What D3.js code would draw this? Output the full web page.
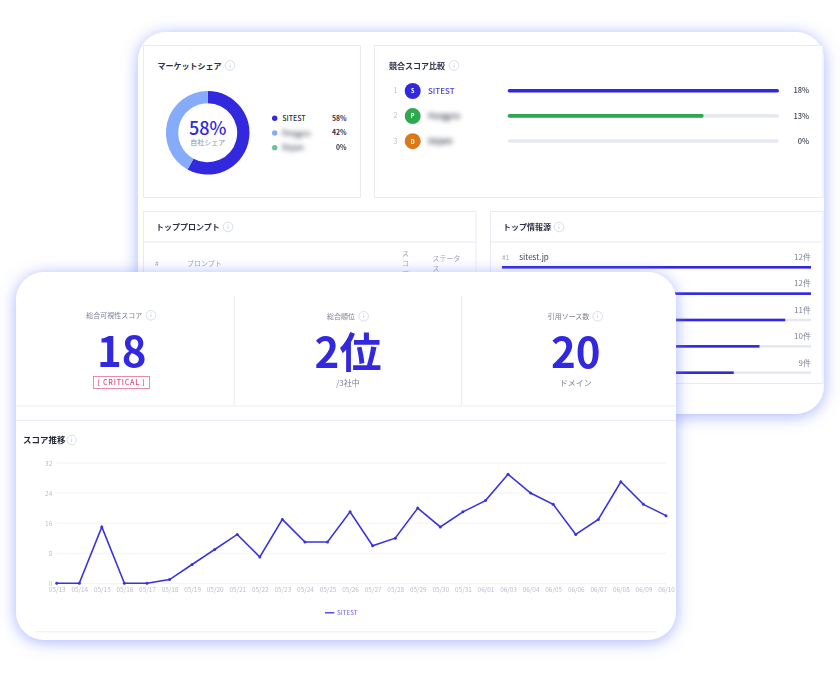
<!DOCTYPE html>
<html lang="ja">
<head>
<meta charset="utf-8">
<script src="https://cdn.jsdelivr.net/npm/d3@7"></script>
<style>
  html, body { margin: 0; background: #fff; }
  svg { display: block; filter: blur(0.3px); }
  text { font-family: "Noto Sans CJK JP", "Noto Sans", sans-serif; }
  .blur { filter: blur(2.6px); }
</style>
</head>
<body>
<div id="chart"></div>
<script>
const dates = ['05/13', '05/14', '05/15', '05/16', '05/17', '05/18', '05/19', '05/20', '05/21', '05/22',
  '05/23', '05/24', '05/25', '05/26', '05/27', '05/28', '05/29', '05/30', '05/31', '06/01',
  '06/03', '06/04', '06/05', '06/06', '06/07', '06/08', '06/09', '06/10'];
const scores = [0, 0, 15, 0, 0, 1, 5, 9, 13, 7, 17, 11, 11, 19, 10, 12, 20, 15, 19, 22, 29, 24, 21, 13, 17, 27, 21, 18];
const scoreTicks = [0, 8, 16, 24, 32];

const shareNames = ['SITEST', 'Pengpro', 'Dejam'];
const shareValues = [58, 42, 0];
const shareColors = ['#3228dd', '#86abfb', '#6fc2a0'];

const compareNames = ['SITEST', 'Pengpro', 'Dejam'];
const compareValues = [18, 13, 0];
const compareInitials = ['S', 'P', 'D'];
const compareColors = ['#3228dd', '#2ea84f', '#d9791a'];

const sourceCounts = [12, 12, 11, 10, 9];

const kpiLabels = ['総合可視性スコア', '総合順位', '引用ソース数'];
const kpiValues = ['18', '2位', '20'];
const kpiNotes = ['', '/3社中', 'ドメイン'];

const blue = '#3228dd';
const ink = '#2b2f45';
const muted = '#8a8fa3';
const panelLine = '#e8ebf6';

const svg = d3.select('#chart').append('svg')
  .attr('width', 840)
  .attr('height', 680);

const defs = svg.append('defs');
const glow = defs.append('filter')
  .attr('id', 'glow')
  .attr('x', '-15%').attr('y', '-15%')
  .attr('width', '130%').attr('height', '130%');
glow.append('feDropShadow')
  .attr('dx', 0).attr('dy', 2)
  .attr('stdDeviation', 8)
  .attr('flood-color', '#6f84ff')
  .attr('flood-opacity', 0.62);

function label(g, x, y, str, size, fill, opts = {}) {
  return g.append('text')
    .attr('x', x)
    .attr('y', y)
    .attr('font-size', size)
    .attr('fill', fill)
    .attr('font-weight', opts.weight || 400)
    .attr('text-anchor', opts.anchor || 'start')
    .attr('class', opts.blur ? 'blur' : null)
    .text(str);
}

function infoIcon(g, cx, cy) {
  g.append('circle')
    .attr('cx', cx).attr('cy', cy).attr('r', 4.8)
    .attr('fill', 'none')
    .attr('stroke', '#cdd6ec')
    .attr('stroke-width', 0.8);
  label(g, cx, cy + 2, 'i', 5.5, '#aeb9d6', { anchor: 'middle' });
}

function panel(g, x0, y0, x1, y1) {
  g.append('rect')
    .attr('x', x0).attr('y', y0)
    .attr('width', x1 - x0).attr('height', y1 - y0)
    .attr('fill', '#fff')
    .attr('stroke', panelLine)
    .attr('stroke-width', 1);
}

function hline(g, x0, x1, y, color, w = 1) {
  g.append('line')
    .attr('x1', x0).attr('x2', x1)
    .attr('y1', y).attr('y2', y)
    .attr('stroke', color)
    .attr('stroke-width', w);
}

// back card
const back = svg.append('g');

back.append('rect')
  .attr('x', 138).attr('y', 32)
  .attr('width', 686).attr('height', 382)
  .attr('rx', 28)
  .attr('fill', '#fff')
  .attr('filter', 'url(#glow)');

// market share
panel(back, 143.5, 45.5, 360.5, 197.5);
label(back, 157.5, 68.5, 'マーケットシェア', 8, ink, { weight: 700 });
infoIcon(back, 230, 65.5);

const pie = d3.pie().sort(null).value(d => d.value);
const arc = d3.arc().innerRadius(29.5).outerRadius(41.8);
const shareData = shareNames.map((name, i) => ({ name, value: shareValues[i], color: shareColors[i] }));

const donut = back.append('g')
  .attr('transform', 'translate(207.7,132.8)');

donut.selectAll('path')
  .data(pie(shareData))
  .join('path')
  .attr('d', arc)
  .attr('fill', d => d.data.color);

label(donut, 0, 2.2, shareValues[0] + '%', 18, blue, { anchor: 'middle', weight: 500 });
label(donut, 0, 12.5, '自社シェア', 7, muted, { anchor: 'middle' });

const shareY = d3.scalePoint().domain(shareNames.map((d, i) => i)).range([118.3, 147.8]);

shareData.forEach((d, i) => {
  back.append('circle')
    .attr('cx', 274.7).attr('cy', shareY(i)).attr('r', 2.7)
    .attr('fill', d.color);
  label(back, 282.3, shareY(i) + 2.6, d.name, 7, ink, { weight: 500, blur: i > 0 });
  label(back, 346.5, shareY(i) + 2.4, d.value + '%', 6.8, ink, { weight: 700, anchor: 'end' });
});

// competitor scores
panel(back, 374.5, 45.5, 823, 197.5);
label(back, 389, 68.5, '競合スコア比較', 8, ink, { weight: 700 });
infoIcon(back, 454, 65.5);

const compareY = d3.scalePoint().domain(compareNames.map((d, i) => i)).range([90.8, 141]);
const compareX = d3.scaleLinear().domain([0, d3.max(compareValues)]).range([507.7, 779]);

compareNames.forEach((name, i) => {
  const y = compareY(i);
  label(back, 395.5, y + 2.5, i + 1, 7, '#b7bccb', { anchor: 'middle' });
  back.append('circle')
    .attr('cx', 412.7).attr('cy', y + 0.2).attr('r', 8)
    .attr('fill', compareColors[i]);
  label(back, 412.7, y + 2.5, compareInitials[i], 5.5, '#fff', { anchor: 'middle', weight: 700 });
  label(back, 428, y + 3, name, 8, i === 0 ? '#4a42e6' : ink, { weight: 500, blur: i > 0 });
  back.append('rect')
    .attr('x', compareX(0)).attr('y', y - 1.8)
    .attr('width', compareX.range()[1] - compareX(0)).attr('height', 3.6)
    .attr('rx', 1.8)
    .attr('fill', '#e6e9f2');
  back.append('rect')
    .attr('x', compareX(0)).attr('y', y - 1.8)
    .attr('width', compareX(compareValues[i]) - compareX(0)).attr('height', 3.6)
    .attr('rx', 1.8)
    .attr('fill', compareColors[i]);
  label(back, 809, y + 2.6, compareValues[i] + '%', 7.5, '#41465c', { anchor: 'end', weight: 500 });
});

// top prompts
panel(back, 143.5, 211.5, 476, 383.5);
hline(back, 143.5, 476, 242, panelLine);
label(back, 156, 230, 'トッププロンプト', 8, ink, { weight: 700 });
infoIcon(back, 228, 227);
label(back, 155, 266, '#', 6.5, '#a3a8ba');
label(back, 187, 266, 'プロンプト', 7, '#a3a8ba');
label(back, 405.5, 256, 'ス', 7, '#a3a8ba', { anchor: 'middle' });
label(back, 405.5, 266, 'コ', 7, '#a3a8ba', { anchor: 'middle' });
label(back, 405.5, 276, 'ア', 7, '#a3a8ba', { anchor: 'middle' });
label(back, 432.5, 261, 'ステータ', 7, '#a3a8ba');
label(back, 432.5, 271, 'ス', 7, '#a3a8ba');

// top sources
panel(back, 490.5, 211.5, 823, 383.5);
hline(back, 490.5, 823, 242, panelLine);
label(back, 503, 230, 'トップ情報源', 8, ink, { weight: 700 });
infoIcon(back, 559, 227);

const sourceY = d3.scalePoint().domain(sourceCounts.map((d, i) => i)).range([267.3, 372.7]);
const sourceX = d3.scaleLinear().domain([0, d3.max(sourceCounts)]).range([502, 811]);

label(back, 502, 260, '#1', 6.5, '#a3a8ba');
label(back, 519.3, 260.3, 'sitest.jp', 8, '#41465c');

sourceCounts.forEach((count, i) => {
  const y = sourceY(i);
  back.append('rect')
    .attr('x', sourceX(0)).attr('y', y - 1.3)
    .attr('width', sourceX.range()[1] - sourceX(0)).attr('height', 2.6)
    .attr('fill', '#e6e9f2');
  back.append('rect')
    .attr('x', sourceX(0)).attr('y', y - 1.3)
    .attr('width', sourceX(count) - sourceX(0)).attr('height', 2.6)
    .attr('fill', blue);
  label(back, 811, y - 7.2, count + '件', 8, '#7c8196', { anchor: 'end' });
});

// front card
const front = svg.append('g');

front.append('rect')
  .attr('x', 16).attr('y', 272)
  .attr('width', 660).attr('height', 368)
  .attr('rx', 28)
  .attr('fill', '#fff')
  .attr('filter', 'url(#glow)');

const kpiX = [121.7, 348, 575.7];
const kpiIcon = [151, 363.7, 597.7];
const kpiLabelX = [114.3, 341, 568.5];

kpiLabels.forEach((name, i) => {
  const dy = i === 0 ? 0 : 1;
  label(front, kpiX[i], 366.8 + dy, kpiValues[i], 42, blue, { anchor: 'middle', weight: 700 });
  label(front, kpiLabelX[i], 317.8 + dy, name, 7, '#7c8196', { anchor: 'middle' });
  infoIcon(front, kpiIcon[i], 315.3 + dy);
  if (kpiNotes[i]) label(front, kpiX[i], 386, kpiNotes[i], 8, '#7c8196', { anchor: 'middle' });
});

front.append('rect')
  .attr('x', 93.5).attr('y', 376.5)
  .attr('width', 56).attr('height', 12)
  .attr('fill', '#fff')
  .attr('stroke', '#e87f9f')
  .attr('stroke-width', 0.9);
label(front, 121.5, 385.2, '[ CRITICAL ]', 7, '#e0457b', { anchor: 'middle', weight: 500 })
  .attr('letter-spacing', 0.8);

[234.3, 461.7].forEach(x => {
  front.append('line')
    .attr('x1', x).attr('x2', x)
    .attr('y1', 296).attr('y2', 406)
    .attr('stroke', '#e8ebf6');
});
hline(front, 16, 676, 406, '#f2f3f8', 1.5);
hline(front, 16, 676, 420.5, '#e8ebf6');
hline(front, 35, 657, 631.7, '#f2f3f8', 1.5);

// score chart
label(front, 23, 443.3, 'スコア推移', 8.5, '#1f2235', { weight: 700 });
infoIcon(front, 71.7, 440);

const x = d3.scalePoint().domain(dates).range([56.7, 666]);
const y = d3.scaleLinear().domain([0, 32]).range([583.3, 463]);

const xAxis = d3.axisBottom(x).tickSize(0).tickPadding(4.5);
const yAxis = d3.axisLeft(y).tickValues(scoreTicks).tickSize(0).tickPadding(4.5);

const grid = front.append('g');
grid.selectAll('line')
  .data(scoreTicks)
  .join('line')
  .attr('x1', x.range()[0])
  .attr('x2', x.range()[1] + 0.5)
  .attr('y1', d => y(d))
  .attr('y2', d => y(d))
  .attr('stroke', '#f2f3f7');

const gx = front.append('g')
  .attr('transform', `translate(0,${y(0)})`)
  .call(xAxis);
const gy = front.append('g')
  .attr('transform', `translate(${x.range()[0]},0)`)
  .call(yAxis);

[gx, gy].forEach(g => {
  g.select('.domain').remove();
  g.selectAll('text')
    .attr('font-size', 6.4)
    .attr('fill', '#b9bdce')
    .style('font-family', '"Noto Sans CJK JP", sans-serif');
});

const line = d3.line()
  .x((d, i) => x(dates[i]))
  .y(d => y(d));

front.append('path')
  .attr('d', line(scores))
  .attr('fill', 'none')
  .attr('stroke', '#3a33dd')
  .attr('stroke-width', 1.6);

front.append('g')
  .selectAll('circle')
  .data(scores)
  .join('circle')
  .attr('cx', (d, i) => x(dates[i]))
  .attr('cy', d => y(d))
  .attr('r', 1.5)
  .attr('fill', '#3a33dd');

hline(front, 325, 334.3, 612.8, '#3a33dd', 1.3);
label(front, 337, 615, 'SITEST', 6.2, '#8077f2', { weight: 500 });
</script>
</body>
</html>
